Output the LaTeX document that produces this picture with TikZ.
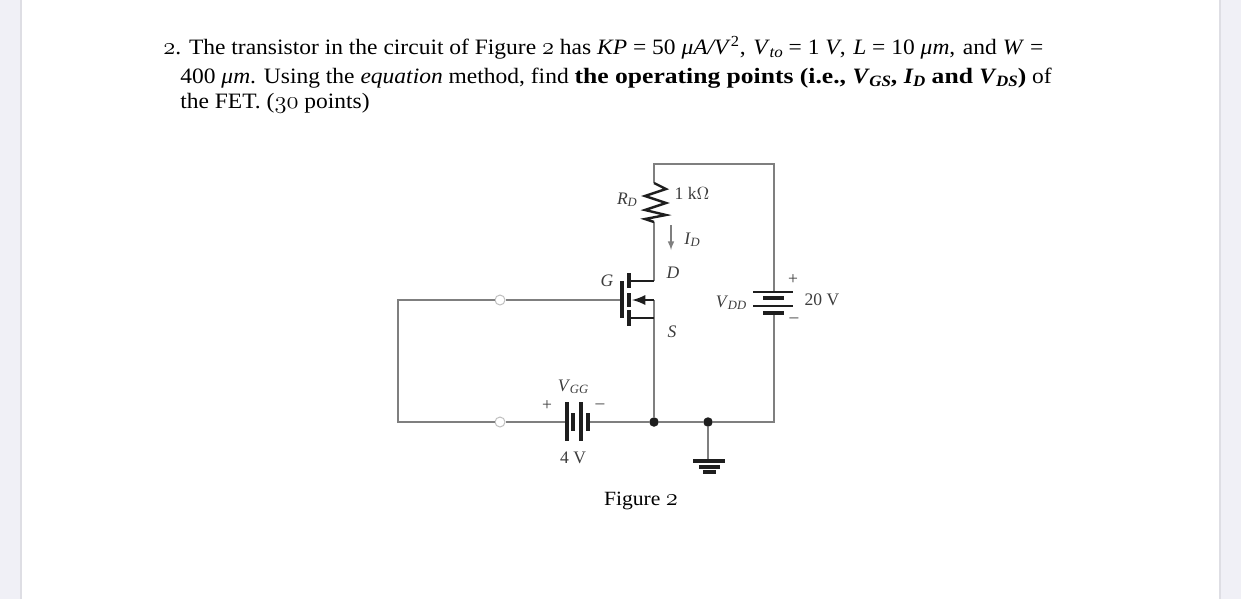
\documentclass[tikz,border=0pt]{standalone}
\usepackage{amsmath,amssymb}
\usepackage{fontspec}
\setmainfont{Liberation Serif}
\newfontfamily\bodyfont[FakeStretch=1.07,BoldFeatures={FakeStretch=1.165}]{Liberation Serif}
\usepackage{tikz}
\newcommand{\osn}[1]{\scalebox{1.16}{$\mathnormal{#1}$}}
\newcommand{\vsub}[2]{\textit{#1}\kern-0.02em\raisebox{-0.3ex}{\fontsize{0.72em}{1em}\selectfont\textit{#2}}}
\definecolor{wirecol}{HTML}{7F7F7F}
\definecolor{platecol}{HTML}{1E1E1E}
\definecolor{lblcol}{HTML}{3C3C3C}
\definecolor{barcol}{HTML}{F0F0F6}
\definecolor{edgecol}{HTML}{DEDEE4}
\tikzset{
  wire/.style={color=wirecol,line width=1.5*0.02cm},
  plate/.style={color=platecol,line width=3.6*0.02cm},
  thinplate/.style={color=platecol,line width=2.8*0.02cm},
  lbl/.style={text=lblcol,inner sep=0pt,font=\fontsize{10}{11}\selectfont},
  txtline/.style={anchor=base west,inner sep=0pt,text=black,font=\bodyfont\fontsize{12.5}{15}\selectfont},
  term/.style={circle,draw=wirecol!50,fill=white,line width=0.02cm,minimum size=10*0.02cm,inner sep=0pt},
  junct/.style={circle,fill=platecol,minimum size=9.5*0.02cm,inner sep=0pt}
}
\begin{document}
\begin{tikzpicture}[x=0.02cm,y=-0.02cm]
        \useasboundingbox (0,0) rectangle (1241,599);
        \fill[barcol] (0,0) rectangle (20,599);
        \fill[edgecol] (20,0) rectangle (22,599);
        \fill[edgecol] (1219,0) rectangle (1221,599);
        \fill[barcol] (1221,0) rectangle (1241,599);
        % question text
        \node[txtline] (line1) at (163,54) {\osn{2}. The transistor in the circuit of Figure \osn{2} has \textit{KP} = 50 \textit{μA/V}\textsuperscript{2},\kern0.08em{} \vsub{V}{to} = 1 \textit{V},\kern0.08em{} \textit{L} = 10 \textit{μm},\kern0.08em{} and \textit{W} =};
        \node[txtline] (line2) at (180,83) {400 \textit{μm}. Using the \textit{equation} method, find \textbf{the operating points (i.e., \vsub{V}{GS}, \vsub{I}{D} and \vsub{V}{DS})} of};
        \node[txtline] (line3) at (180,108) {the FET. (\osn{30} points)};
        % corners and junctions
        \coordinate (tl) at (654,164);
        \coordinate (tr) at (774,164);
        \coordinate (rtop) at (654,183);
        \coordinate (rbot) at (654,222);
        \coordinate (drain) at (654,281);
        \coordinate (srcmid) at (654,300);
        \coordinate (src) at (654,318);
        \coordinate (br) at (774,422);
        \coordinate (ddtop) at (774,292);
        \coordinate (ddbot) at (774,313);
        \coordinate (gl) at (398,300);
        \coordinate (bl) at (398,422);
        \coordinate (gate) at (622,300);
        \coordinate (ggl) at (567,422);
        \coordinate (ggr) at (588,422);
        \coordinate (gndtop) at (708,461);
        \node[junct] (js) at (654,422) {};
        \node[junct] (jg) at (708,422) {};
        % wires
        \draw[wire] (rtop) -- (tl) -- (tr) -- (ddtop);
        \draw[wire] (ddbot) -- (br) -- (jg);
        \draw[wire] (jg) -- (js);
        \draw[wire] (jg) -- (gndtop);
        \draw[wire] (rbot) -- (drain);
        \draw[wire] (srcmid) -- (js);
        \draw[wire] (js) -- (ggr);
        \node[term] (t1) at (500,300) {};
        \node[term] (t2) at (500,422) {};
        \draw[wire] (gate) -- (t1) -- (gl) -- (bl) -- (t2) -- (ggl);
        % RD
        \draw[color=platecol,line width=2.4*0.02cm] (rtop) -- (666,189) -- (645,196) -- (666,203) -- (645,210) -- (666,215) -- (645,219) -- (rbot);
        % fet
        \draw[plate] (622,281) -- (622,318);
        \draw[plate] (629,273) -- (629,288);
        \draw[plate] (629,293) -- (629,307);
        \draw[plate] (629,310) -- (629,326);
        \draw[thinplate] (629,281) -- (drain);
        \draw[thinplate] (629,318) -- (src);
        \draw[thinplate,-latex] (srcmid) -- (632,300);
        % VDD
        \draw[thinplate] (753,292) -- (793,292);
        \draw[plate] (763,298) -- (784,298);
        \draw[thinplate] (753,306) -- (793,306);
        \draw[plate] (763,313) -- (784,313);
        % VGG
        \draw[plate] (567,402) -- (567,441);
        \draw[plate] (573,413) -- (573,431);
        \draw[plate] (581,402) -- (581,441);
        \draw[plate] (588,413) -- (588,431);
        % ground
        \draw[plate] (693,461) -- (725,461);
        \draw[plate] (699,467) -- (720,467);
        \draw[plate] (703,472) -- (716,472);
        % ID arrow
        \draw[color=wirecol,line width=1.2*0.02cm,-latex] (671,225) -- (671,250);
        % labels
        \node[lbl] (lrd) at (627,200) {\vsub{R}{D}};
        \node[lbl] (lrv) at (692,193) {1 k$\Omega$};
        \node[lbl] (lid) at (692,240) {\vsub{I}{D}};
        \node[lbl] (ld) at (673,273) {\textit{D}};
        \node[lbl] (ls) at (672,332) {\textit{S}};
        \node[lbl] (lg) at (607,281) {\textit{G}};
        \node[lbl] (lvdd) at (731,303) {\vsub{V}{DD}};
        \node[lbl] (lvddv) at (822,300) {20 V};
        \node[lbl] (lp1) at (793,280) {+};
        \node[lbl] (lm1) at (794,320) {--};
        \node[lbl] (lvgg) at (573,387) {\vsub{V}{GG}};
        \node[lbl] (lvggv) at (573,458) {4 V};
        \node[lbl] (lp2) at (547,406) {+};
        \node[lbl] (lm2) at (600,406) {--};
        \node[txtline,anchor=center,font=\bodyfont\fontsize{11.5}{13}\selectfont] (cap) at (641,501) {Figure \osn{2}};
      \end{tikzpicture}
\end{document}
